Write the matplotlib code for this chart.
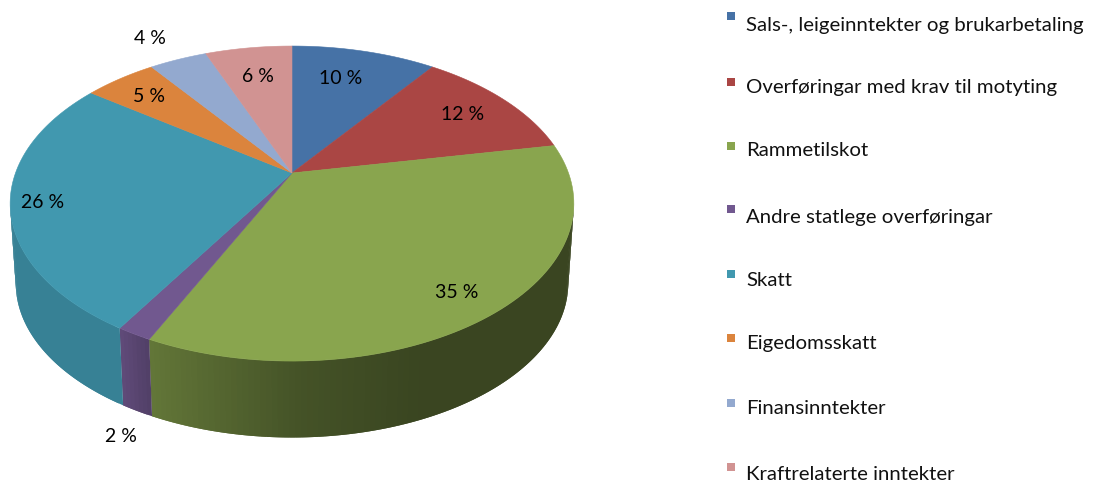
import numpy as np
import matplotlib
matplotlib.use('Agg')
import matplotlib.pyplot as plt
from matplotlib.collections import PolyCollection
from matplotlib.patches import Polygon

categories = ['Sals-, leigeinntekter og brukarbetaling', 'Overføringar med krav til motyting',
              'Rammetilskot', 'Andre statlege overføringar', 'Skatt', 'Eigedomsskatt',
              'Finansinntekter', 'Kraftrelaterte inntekter']
values = [10, 12, 35, 1.7, 26.3, 5, 4, 6]
colors = ['#4672A6', '#AA4644', '#89A54E', '#71588F', '#4198AF', '#DB843D', '#93A9CF', '#D19392']

label_xy = [(341, 78), (463, 115), (457, 293), (121, 436), (43, 202), (149, 97), (150, 38), (258, 76)]
legend_y = [25, 87, 151, 217, 281, 344, 409, 474]
marker_y = [16, 82, 146, 209, 274, 338, 403, 467]

plt.rcParams['font.family'] = ['Lato', 'DejaVu Sans']

# tilted disc: unit circle through a projective map, so the centre sits above the ellipse middle
K = 0.194


def project(theta, cx, cy, a, b):
    u, v = np.sin(theta), np.cos(theta)
    w = 1 + K * v
    return cx + a * u / w, cy - b * v / w


def top(theta):
    return project(theta, 292, 173, 276.5, 151.6)


def bottom(theta):
    return project(theta, 292, 253.4, 271, 148.4)


def side_shade(x):
    return np.interp(x, [120, 148, 300, 420], [0.85, 0.72, 0.5, 0.42])


fig = plt.figure(figsize=(10.99, 4.84), dpi=100)
ax = fig.add_axes([0, 0, 1, 1])
ax.set_xlim(0, 1099)
ax.set_ylim(484, 0)
ax.axis('off')

edges = np.deg2rad(np.cumsum([0] + values) * 3.6)
side_start, side_end = np.deg2rad(101), np.deg2rad(259)

# side wall first, each strip runs under the next one so no seams show
for i, color in enumerate(colors):
    lo, hi = max(edges[i], side_start), min(edges[i + 1], side_end)
    if lo >= hi:
        continue
    steps = np.linspace(lo, hi, int(np.degrees(hi - lo)) + 2)
    base = np.array(matplotlib.colors.to_rgb(color))
    for j, (t0, t1) in enumerate(zip(steps[:-1], steps[1:])):
        t2 = steps[min(j + 2, len(steps) - 1)]
        x0, y0 = top(t0)
        x1, y1 = top(t2)
        x2, y2 = bottom(t2)
        x3, y3 = bottom(t0)
        face = base * side_shade((x0 + top(t1)[0]) / 2)
        ax.add_collection(PolyCollection([[(x0, y0), (x1, y1), (x2, y2), (x3, y3)]],
                                         facecolors=[face], edgecolors='none'))

for i, color in enumerate(colors):
    arc = np.linspace(edges[i], edges[i + 1], 80)
    xs, ys = top(arc)
    pts = np.column_stack([np.r_[292, xs], np.r_[173, ys]])
    ax.add_patch(Polygon(pts, closed=True, facecolor=color, edgecolor=color, linewidth=0.4))

for val, (x, y) in zip(values, label_xy):
    ax.text(x, y, f'{val:.0f} %', ha='center', va='center', fontsize=14, color='black')

for name, color, ty, my in zip(categories, colors, legend_y, marker_y):
    ax.scatter([731], [my], marker='s', s=36, color=color, linewidths=0)
    ax.text(746, ty, name, ha='left', va='center', fontsize=14.7, color='#111111')

fig.savefig('out.png', dpi=100)
